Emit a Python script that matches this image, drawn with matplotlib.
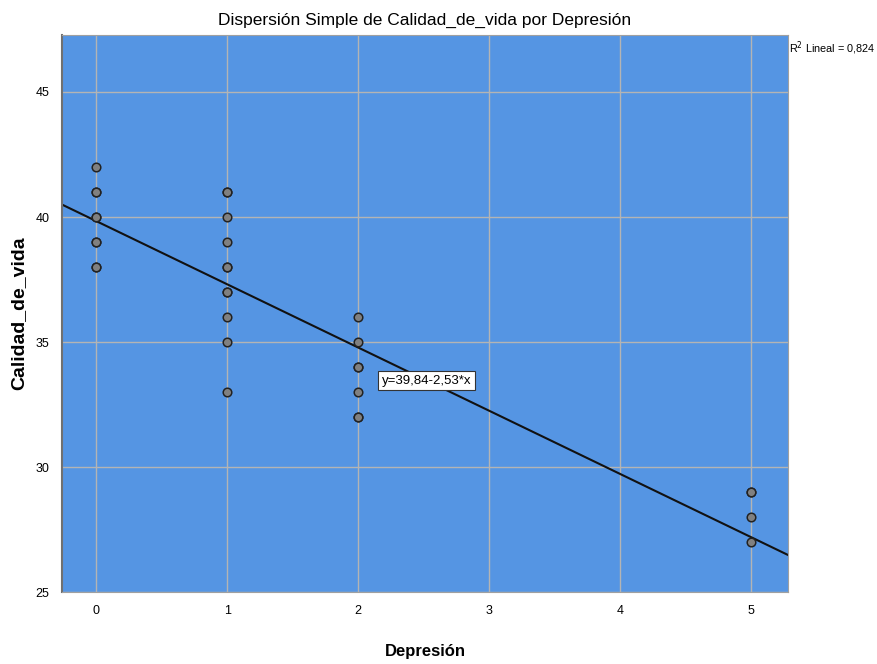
import numpy as np
import matplotlib.pyplot as plt

plt.rcParams['font.family'] = ['Liberation Sans', 'DejaVu Sans']

# Depresión vs Calidad_de_vida (duplicates stacked on the same spot)
depresion = [0, 0, 0, 0, 0, 0, 0, 0, 0,
             1, 1, 1, 1, 1, 1, 1, 1, 1, 1, 1,
             2, 2, 2, 2, 2, 2, 2,
             5, 5, 5, 5]
calidad = [42, 41, 41, 40, 40, 39, 39, 38, 38,
           41, 41, 40, 39, 38, 38, 37, 37, 36, 35, 33,
           36, 35, 34, 34, 33, 32, 32,
           29, 29, 28, 27]

intercept = 39.84
slope = -2.53
r2 = 0.824

xticks = [0, 1, 2, 3, 4, 5]
yticks = [25, 30, 35, 40, 45]

fig = plt.figure(figsize=(8.78, 6.64), dpi=100)
ax = fig.add_axes([0.0706, 0.1084, 0.8269, 0.8389])
ax.set_facecolor('#5595e3')

ax.set_xlim(-0.26, 5.28)
ax.set_ylim(25, 47.28)
ax.set_xticks(xticks)
ax.set_yticks(yticks)
ax.grid(True, color='#b4b4b4', linewidth=1.0)
ax.set_axisbelow(True)
ax.tick_params(length=0, labelsize=9, pad=9)
for s in ax.spines.values():
    s.set_color('#a0a0a0')
ax.spines['left'].set_color('#707070')
ax.spines['left'].set_linewidth(1.5)

xs = np.array([-0.26, 5.28])
ax.plot(xs, intercept + slope * xs, color='#111111', linewidth=1.5, zorder=2)

ax.scatter(depresion, calidad, s=38, marker='o', facecolor='#808080',
           edgecolor='#222222', linewidth=1.1, zorder=3)

ax.text(2.18, 33.45, 'y=39,84-2,53*x', fontsize=9.5, va='center', ha='left',
        bbox=dict(boxstyle='square,pad=0.25', facecolor='white', edgecolor='#333333', linewidth=0.8),
        zorder=4)

ax.set_title('Dispersión Simple de Calidad_de_vida por Depresión', fontsize=12.5, pad=7)
ax.set_xlabel('Depresión', fontsize=12, fontweight='bold', labelpad=20)
ax.set_ylabel('Calidad_de_vida', fontsize=14, fontweight='bold')
ax.yaxis.set_label_coords(-0.048, 0.5)

fig.text(0.899, 0.928, f'R$^2$ Lineal = {r2:.3f}'.replace('.', ','), fontsize=7.8,
         ha='left', va='center')

fig.savefig('out.png', dpi=100, facecolor='white')
